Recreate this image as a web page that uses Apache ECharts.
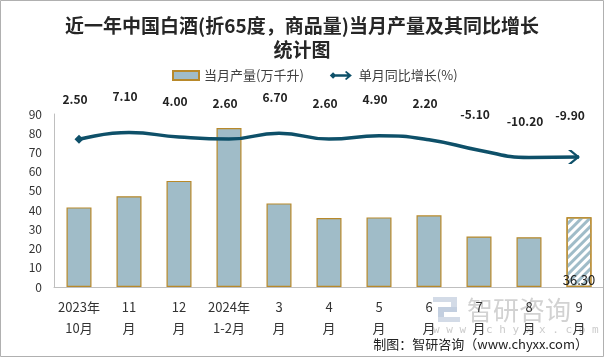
<!DOCTYPE html>
<html><head><meta charset="utf-8">
<script src="https://cdn.jsdelivr.net/npm/echarts@6/dist/echarts.min.js"></script>
<style>html,body{margin:0;padding:0;background:#fff}#c{width:604px;height:357px}</style>
</head><body><div id="c"></div>
<script>
const categories = ['2023年\n10月','11\n月','12\n月','2024年\n1-2月','3\n月','4\n月','5\n月','6\n月','7\n月','8\n月','9\n月'];
const output = [41.4, 47.2, 55.2, 82.7, 43.5, 35.9, 36.2, 37.3, 26.3, 25.9, 36.3];
const growth = [2.5, 7.1, 4.0, 2.6, 6.7, 2.6, 4.9, 2.2, -5.1, -10.2, -9.9];
const yTicks = [0, 10, 20, 30, 40, 50, 60, 70, 80, 90];
const seriesNames = ['当月产量(万千升)', '单月同比增长(%)'];

const BAR_FILL = '#a0bcc8', BAR_BORDER = '#b8892a', LINE_COLOR = '#0e5069';
const ARROW = 'path://M0,0 L3.2,0 L11,6.5 L3.2,13 L0,13 L7.8,6.5 Z';
const LEGEND_ARROW = 'path://M0,5.5 L4,1.5 L6.5,4 L21.5,4 L18.5,1.2 L20.2,0 L27,5.5 L20.2,11 L18.5,9.8 L21.5,7 L6.5,7 L4,9.5 Z';
const lastIdx = output.length - 1;

const barData = output.map((v, i) => i === lastIdx ? {
  value: v,
  itemStyle: { color: '#ffffff', decal: { symbol: 'rect', color: BAR_FILL, dashArrayX: [1, 0], dashArrayY: [2.2, 3], rotation: -Math.PI / 4 } },
  label: { show: true }
} : v);

const lineData = growth.map((v, i) => {
  if (i === 0) return { value: v, symbol: 'diamond', symbolSize: 9 };
  if (i === lastIdx) return { value: v, symbol: ARROW, symbolSize: [12, 14], symbolOffset: [-5, 0] };
  return v;
});

const chart = echarts.init(document.getElementById('c'));
chart.setOption({
  animation: false,
  backgroundColor: '#fff',
  textStyle: { fontFamily: '"Noto Sans CJK SC", "Noto Sans", sans-serif' },
  title: {
    text: '近一年中国白酒(折65度，商品量)当月产量及其同比增长\n统计图',
    left: 'center', top: 9,
    textStyle: { fontSize: 19, fontWeight: 'bold', lineHeight: 24, color: '#262626', fontFamily: '"Noto Sans CJK SC", sans-serif' }
  },
  legend: {
    left: 167, top: 64, itemWidth: 26, itemHeight: 9, itemGap: 26,
    textStyle: { fontSize: 13, color: '#404040' },
    data: [
      { name: seriesNames[0], icon: 'rect' },
      { name: seriesNames[1], icon: LEGEND_ARROW, itemStyle: { color: LINE_COLOR, borderWidth: 0 } }
    ]
  },
  grid: { left: 54, right: 0, top: 114, bottom: 70 },
  xAxis: {
    type: 'category', data: categories,
    axisLine: { lineStyle: { color: '#bfbfbf' } },
    axisTick: { show: false },
    axisLabel: { interval: 0, fontSize: 13, lineHeight: 21, margin: 10, color: '#333' }
  },
  yAxis: [{
    type: 'value', min: yTicks[0], max: yTicks[yTicks.length - 1], interval: yTicks[1] - yTicks[0],
    axisLine: { show: true, lineStyle: { color: '#bfbfbf' } },
    axisTick: { show: false },
    splitLine: { show: false },
    axisLabel: { fontSize: 12, color: '#333', margin: 12 }
  }, {
    type: 'value', min: -100, max: 20, show: false, splitLine: { show: false }
  }],
  series: [{
    name: seriesNames[0], type: 'bar', data: barData, barWidth: 25,
    itemStyle: { color: BAR_FILL, borderColor: BAR_BORDER, borderWidth: 1.2 },
    label: { show: false, position: 'insideBottom', distance: 0, fontSize: 13, color: '#222', formatter: p => p.value.toFixed(2) }
  }, {
    name: seriesNames[1], type: 'line', yAxisIndex: 1, data: lineData, smooth: true,
    symbol: 'circle', symbolSize: 2,
    lineStyle: { color: LINE_COLOR, width: 3.5 },
    itemStyle: { color: LINE_COLOR },
    label: { show: true, position: 'top', distance: 29, offset: [-4, 0], fontSize: 12, fontWeight: 600, color: '#222', formatter: p => p.value.toFixed(2) },
    z: 5
  }],
  graphic: [
    { type: 'group', z: -10, silent: true, children: [
      { type: 'rect', shape: { x: 433, y: 297, width: 23, height: 5 }, style: { fill: '#d3dbe7' } },
      { type: 'rect', shape: { x: 451, y: 297, width: 6, height: 15 }, style: { fill: '#d3dbe7' } },
      { type: 'rect', shape: { x: 440, y: 307, width: 17, height: 5 }, style: { fill: '#c3cfe0' } },
      { type: 'rect', shape: { x: 438, y: 307, width: 6, height: 15 }, style: { fill: '#c3cfe0' } },
      { type: 'rect', shape: { x: 438, y: 317, width: 22, height: 5 }, style: { fill: '#d3dbe7' } },
      { type: 'text', x: 467, y: 310, style: { text: '智研咨询', fontSize: 26, fill: '#d2d2d2', verticalAlign: 'middle', fontFamily: '"Noto Sans CJK SC", sans-serif' } },
      { type: 'text', x: 433, y: 330, style: { text: 'w w w . c h y x x . c o m', fontSize: 11, fill: '#cccccc', verticalAlign: 'middle', fontFamily: '"DejaVu Sans Mono", monospace' } }
    ]},
    { type: 'text', right: 16, top: 338, style: { text: '制图：智研咨询（www.chyxx.com）', fontSize: 13, fill: '#222', fontFamily: '"Noto Sans CJK SC", sans-serif' } },
    { type: 'rect', z: 100, silent: true, shape: { x: 0.5, y: 0.5, width: 603, height: 356 }, style: { fill: 'none', stroke: '#b0b0b0', lineWidth: 1 } }
  ]
});
</script></body></html>
